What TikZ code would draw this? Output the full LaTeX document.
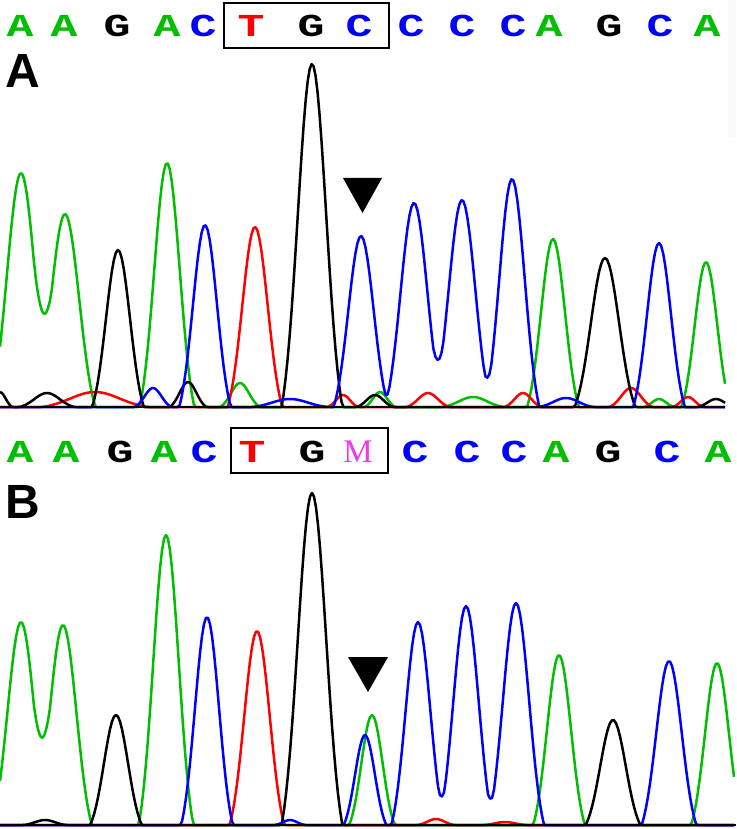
\documentclass[tikz,border=0pt]{standalone}
\usepackage{fontspec}
\setmainfont{Liberation Sans}
\newfontfamily\seqfont{Liberation Mono}
\newfontfamily\mfont{Liberation Serif}
\definecolor{tgreen}{RGB}{0,190,0}
\definecolor{tblue}{RGB}{0,0,255}
\definecolor{tred}{RGB}{255,0,0}
\definecolor{tmag}{RGB}{235,60,235}
\pgfmathdeclarefunction{pk}{4}{%
  \begingroup
  \pgfmathparse{max(0,#3*(exp(max(-9,-((#1-(#2))/#4)*((#1-(#2))/#4)))-0.1)/0.9)}%
  \pgfmathsmuggle\pgfmathresult
  \endgroup}
\newcommand{\wideletter}[1]{\scalebox{1.4}[1]{#1}}
\tikzset{
  trace/.style={line width=2.5pt, line join=round},
  seq/.style={font=\seqfont\bfseries\fontsize{32}{32}\selectfont, inner sep=0pt},
  mseq/.style={font=\mfont\fontsize{33}{33}\selectfont, inner sep=0pt, text=tmag},
  panel/.style={font=\bfseries\fontsize{48}{48}\selectfont, inner sep=0pt, anchor=base west},
  selbox/.style={draw=black, line width=1.5pt},
  axisline/.style={line width=2pt, black},
  marker/.style={fill=black}
}
\begin{document}
\begin{tikzpicture}[x=1pt,y=-1pt]
\useasboundingbox (0,0) rectangle (736,829);
\fill[white] (0,0) rectangle (736,829);
\fill[black!2] (728,0) rectangle (736,138);

% ---------- sequences ----------
\foreach \px/\l/\c [count=\i] in {20/A/tgreen,64/A/tgreen,117/G/black,167/A/tgreen,203/C/tblue,251/T/tred,311/G/black,359/C/tblue,411/C/tblue,462/C/tblue,513/C/tblue,549/A/tgreen,609/G/black,660/C/tblue,707/A/tgreen}
  \node[seq,text=\c] (ta\i) at (\px,26) {\wideletter{\l}};
\draw[selbox] (224,3) rectangle (389,48);

\foreach \px/\l/\c [count=\i] in {20/A/tgreen,66/A/tgreen,120/G/black,164/A/tgreen,204/C/tblue,252/T/tred,312/G/black,415/C/tblue,467/C/tblue,514/C/tblue,556/A/tgreen,608/G/black,667/C/tblue,718/A/tgreen}
  \node[seq,text=\c] (tb\i) at (\px,452) {\wideletter{\l}};
\node[mseq] (tbm) at (358,452) {M};
\draw[selbox] (231,428) rectangle (388,473);

\node[panel] (labA) at (5,88) {A};
\node[panel] (labB) at (5,518) {B};

% ---------- panel A traces ----------
\draw[trace,tgreen] plot[domain=0:725,samples=364] (\x,{407-pk(\x,21,234,20)-pk(\x,65,193,20)-pk(\x,167,244,18)-pk(\x,240,24,13)-pk(\x,380,15,10)-pk(\x,473,10,20)-pk(\x,553,168,17)-pk(\x,659,8,10)-pk(\x,706,145,16)});
\draw[trace,tred] plot[domain=0:725,samples=364] (\x,{407-pk(\x,95,15,35)-pk(\x,255,180,18)-pk(\x,343,12,10)-pk(\x,428,14,14)-pk(\x,523,14,12)-pk(\x,631,19,14)-pk(\x,688,10,10)});
\draw[trace,black] plot[domain=0:725,samples=364] (\x,{407-pk(\x,0,15,8)-pk(\x,47,14,18)-pk(\x,118,157,17)-pk(\x,188,25,12)-pk(\x,312,343,20)-pk(\x,375,12,12)-pk(\x,605,149,20)-pk(\x,716,8,12)});
\draw[trace,tblue] plot[domain=0:725,samples=364] (\x,{407-pk(\x,153,19,12)-pk(\x,205,182,17)-pk(\x,290,8,25)-pk(\x,361,171,18)-pk(\x,414,204,19)-pk(\x,462,207,19)-pk(\x,512,228,18)-pk(\x,566,9,18)-pk(\x,659,164,17)});
\draw[axisline] (0,407) -- (725,407);
\fill[marker] (343,178) -- (382,178) -- (362.5,213) -- cycle;

% ---------- panel B traces ----------
\draw[trace,tgreen] plot[domain=0:734,samples=368] (\x,{825-pk(\x,21,203,19)-pk(\x,63,200,19)-pk(\x,166,290,18)-pk(\x,372,110,15)-pk(\x,559,170,17)-pk(\x,717,162,17)});
\draw[trace,tred] plot[domain=0:734,samples=368] (\x,{825-pk(\x,257,194,18)-pk(\x,436,6,12)-pk(\x,505,3,14)});
\draw[trace,black] plot[domain=0:734,samples=368] (\x,{825-pk(\x,45,5,14)-pk(\x,116,110,17)-pk(\x,312,332,20)-pk(\x,613,105,18)});
\draw[trace,tblue] plot[domain=0:734,samples=368] (\x,{825-pk(\x,207,208,17)-pk(\x,290,5,10)-pk(\x,365,90,14)-pk(\x,418,203,17.5)-pk(\x,466,219,18)-pk(\x,516,222,18.5)-pk(\x,669,164,18)});
\draw[axisline] (0,825) -- (736,825);
\fill[marker] (348,657) -- (388,657) -- (368,692) -- cycle;
\end{tikzpicture}
\end{document}
